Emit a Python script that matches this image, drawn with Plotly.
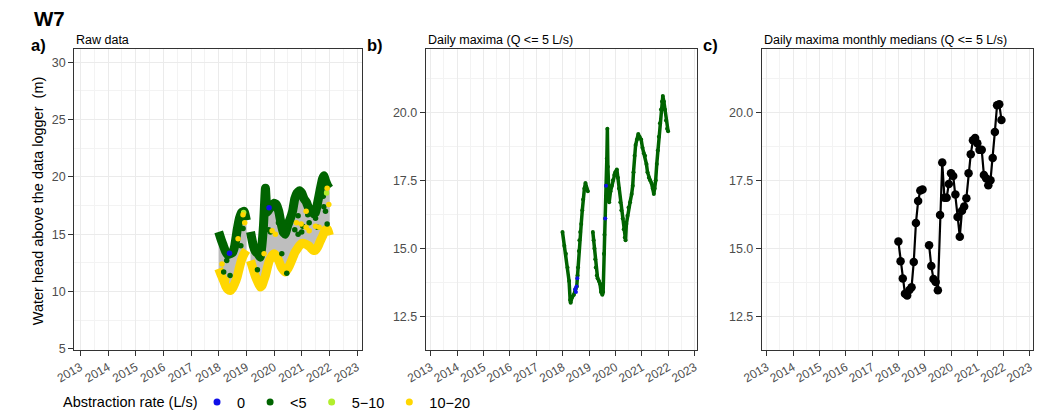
import plotly.graph_objects as go

# ---------------- a) raw logger record (band centre lines, decimal years) ----------------
raw_t1 = [2018.00, 2018.08, 2018.17, 2018.25, 2018.33, 2018.42, 2018.50, 2018.58,
          2018.67, 2018.75, 2018.83, 2018.92, 2019.00]
raw_low_q1 = [15.2, 14.6, 14.0, 13.5, 13.2, 13.3, 13.4, 14.0, 15.4, 16.4, 16.9, 17.0, 16.2]
raw_high_q1 = [12.0, 11.5, 11.0, 10.5, 10.2, 10.1, 10.3, 10.7, 11.3, 12.1, 12.8, 13.3, 13.6]

raw_t2 = [2019.15, 2019.25, 2019.33, 2019.42, 2019.50, 2019.56, 2019.62, 2019.69, 2019.75,
          2019.83, 2019.92, 2020.00, 2020.08, 2020.17, 2020.25, 2020.33, 2020.40, 2020.50,
          2020.58, 2020.67, 2020.75, 2020.83, 2020.92, 2021.00, 2021.08, 2021.17, 2021.25,
          2021.33, 2021.42, 2021.50, 2021.58, 2021.67, 2021.75, 2021.80, 2021.87, 2021.94,
          2022.00]
raw_low_q2 = [15.2, 14.0, 13.5, 13.3, 13.0, 14.0, 15.8, 19.0, 16.9, 17.2, 17.5, 17.7, 17.6,
              17.0, 16.0, 15.2, 15.0, 15.8, 16.3, 17.0, 18.1, 18.6, 18.8, 18.6, 18.1, 17.8,
              17.3, 17.1, 16.8, 16.9, 17.8, 18.9, 19.8, 20.1, 19.6, 19.2, 19.0]
raw_high_q2 = [12.7, 11.9, 11.3, 10.8, 10.4, 10.5, 10.9, 11.4, 12.0, 12.7, 13.1, 13.3, 13.1,
               12.7, 12.2, 11.9, 11.7, 12.0, 12.4, 12.9, 13.4, 13.7, 14.0, 14.2, 14.2, 14.1,
               14.0, 13.8, 13.6, 13.6, 13.9, 14.4, 14.8, 15.1, 15.4, 15.4, 14.9]

# isolated readings inside the band, by abstraction class
pts_0_t = [2018.39, 2019.82]
pts_0_h = [13.35, 17.3]
pts_lt5_t = [2018.18, 2018.29, 2018.41, 2018.80, 2018.88, 2019.40, 2019.58, 2019.81, 2019.87,
             2020.16, 2020.28, 2020.46, 2020.51, 2020.75, 2020.87, 2020.87, 2021.00, 2021.04,
             2021.22, 2021.27, 2021.50, 2021.57, 2021.78, 2021.80, 2021.86, 2021.92]
pts_lt5_h = [11.7, 12.7, 11.4, 14.0, 15.5, 11.9, 14.4, 15.4, 15.2, 16.0, 13.3, 11.6, 15.7, 15.4,
             16.6, 15.0, 15.2, 15.7, 16.7, 16.0, 16.4, 15.6, 18.3, 17.4, 17.0, 15.9]
pts_5_10_t = [2018.90, 2021.90]
pts_5_10_h = [16.9, 18.6]
pts_10_20_t = [2018.12, 2018.29, 2018.70, 2018.88, 2018.94, 2019.64, 2019.93, 2020.05, 2020.81,
               2020.98, 2021.16, 2021.16, 2021.27, 2021.50, 2021.63, 2021.92, 2021.98]
pts_10_20_h = [12.4, 11.0, 14.6, 16.7, 16.0, 13.3, 15.3, 15.0, 16.0, 15.9, 17.0, 15.6, 15.3,
               15.7, 15.6, 19.0, 17.6]

# ---------------- b) daily maxima, Q <= 5 L/s ----------------
dmax_t = [2017.99, 2018.06, 2018.12, 2018.18, 2018.24, 2018.28, 2018.30, 2018.35, 2018.42,
          2018.48, 2018.53, 2018.56, 2018.58, 2018.61, 2018.63, 2018.66, 2018.70, 2018.74,
          2018.77, 2018.82, 2018.86, 2018.90, 2018.95, None,
          2019.14, 2019.17, 2019.20, 2019.23, 2019.25, 2019.29, 2019.32, 2019.37, 2019.41,
          2019.45, 2019.50, 2019.53, 2019.56, 2019.58, 2019.61, 2019.64, 2019.67, 2019.69,
          2019.71, 2019.73, 2019.76, 2019.81, 2019.86, 2019.90, 2019.95, 2019.99, 2020.05,
          2020.09, 2020.13, 2020.18, 2020.22, 2020.27, 2020.31, 2020.35, 2020.38, 2020.41,
          2020.45, 2020.49, 2020.55, 2020.61, 2020.65, 2020.68, 2020.72, 2020.76, 2020.81,
          2020.86, 2020.91, 2020.97, 2021.02, 2021.07, 2021.12, 2021.17, 2021.21, 2021.26,
          2021.31, 2021.36, 2021.41, 2021.45, 2021.48, 2021.52, 2021.56, 2021.60, 2021.64,
          2021.68, 2021.72, 2021.76, 2021.79, 2021.83, 2021.87, 2021.91, 2021.95, 2021.99]
dmax_h = [15.6, 15.1, 14.8, 14.3, 13.8, 13.1, 13.0, 13.2, 13.3,
          13.5, 13.6, 14.0, 14.3, 14.9, 15.3, 15.6, 15.9, 16.4,
          16.8, 17.2, 17.4, 17.2, 17.1, None,
          15.6, 15.3, 15.0, 14.6, 14.3, 14.0, 13.9, 13.8, 13.7,
          13.4, 13.3, 13.4, 14.8, 15.5, 16.1, 17.3, 18.3, 19.4,
          18.0, 16.8, 16.7, 17.1, 17.3, 17.5, 17.7, 17.8, 17.9,
          17.6, 17.2, 16.7, 16.4, 16.1, 15.7, 15.4, 15.3, 15.9,
          16.2, 16.5, 16.7, 17.0, 17.3, 17.8, 18.4, 18.8, 19.0,
          19.2, 19.1, 19.0, 18.7, 18.5, 18.4, 18.1, 17.8, 17.6,
          17.5, 17.4, 17.2, 17.0, 17.2, 17.5, 18.1, 18.6, 19.1,
          19.6, 20.1, 20.4, 20.6, 20.4, 20.1, 19.7, 19.4, 19.3]
dmax0_t = [2018.47, 2018.50, 2018.52, 2018.55, 2019.61, 2019.64]
dmax0_h = [13.5, 13.4, 13.6, 13.9, 16.1, 17.3]

# ---------------- c) monthly medians of daily maxima ----------------
med_month = ["2018-01", "2018-02", "2018-03", "2018-04", "2018-05", "2018-06",
             "2018-07", "2018-08", "2018-09", "2018-10", "2018-11", "2018-12",
             "2019-01", "2019-02", "2019-03", "2019-04", "2019-05", "2019-06",
             "2019-07", "2019-08", "2019-09", "2019-10", "2019-11", "2019-12",
             "2020-01", "2020-02", "2020-03", "2020-04", "2020-05", "2020-06",
             "2020-07", "2020-08", "2020-09", "2020-10", "2020-11", "2020-12",
             "2021-01", "2021-02", "2021-03", "2021-04", "2021-05", "2021-06",
             "2021-07", "2021-08", "2021-09", "2021-10", "2021-11", "2021-12"]
med_h = [15.25, 14.53, 13.89, 13.33, 13.27, 13.47, 13.57, 14.50, 15.93, 16.74, 17.13, 17.16,
         None, None, 15.12, 14.35, 13.88, 13.77, 13.46, 16.23, 18.16, 16.86, 16.86, 17.37,
         17.76, 17.66, 16.98, 16.15, 15.43, 16.38, 16.54, 16.84, 17.76, 18.46, 18.97, 19.06,
         18.86, 18.62, 18.62, 17.70, 17.58, 17.32, 17.50, 18.32, 19.28, 20.26, 20.30, 19.72]

year_ticks = list(range(2013, 2024))
rate_classes = ["0", "<5", "5\u221210", "10\u221220"]

# ---------------- styling ----------------
C_BLUE = "#1010E8"
C_DGREEN = "#006400"
C_LGREEN = "#B2EE2C"
C_YELLOW = "#FFD700"
C_GREY = "#BEBEBE"
class_colors = [C_BLUE, C_DGREEN, C_LGREEN, C_YELLOW]
FONT = "Liberation Sans, Arial, sans-serif"
SPL = dict(shape="spline", smoothing=0.35)

med_t = [int(m[:4]) + (int(m[5:]) - 1) / 12 for m in med_month]

fig = go.Figure()

# a) grey envelope between the low-rate and high-rate bands
for t, lo, hi in [(raw_t1, raw_low_q1, raw_high_q1), (raw_t2, raw_low_q2, raw_high_q2)]:
    fig.add_trace(go.Scatter(x=t + t[::-1], y=lo + hi[::-1], fill="toself", fillcolor=C_GREY,
                             line=dict(width=0, **SPL), mode="lines",
                             hoverinfo="skip", showlegend=False, xaxis="x", yaxis="y"))
for t, hi in [(raw_t1, raw_high_q1), (raw_t2, raw_high_q2)]:
    fig.add_trace(go.Scatter(x=t, y=hi, mode="lines", line=dict(color=C_YELLOW, width=9, **SPL),
                             showlegend=False, xaxis="x", yaxis="y"))
for t, lo in [(raw_t1, raw_low_q1), (raw_t2, raw_low_q2)]:
    fig.add_trace(go.Scatter(x=t, y=lo, mode="lines", line=dict(color=C_DGREEN, width=9, **SPL),
                             showlegend=False, xaxis="x", yaxis="y"))

point_sets = [(pts_0_t, pts_0_h), (pts_lt5_t, pts_lt5_h),
              (pts_5_10_t, pts_5_10_h), (pts_10_20_t, pts_10_20_h)]
for name, (t, h), col in zip(rate_classes, point_sets, class_colors):
    fig.add_trace(go.Scatter(x=t, y=h, mode="markers", name=name, legendgroup=name,
                             marker=dict(color=col, size=5.5), showlegend=False,
                             xaxis="x", yaxis="y"))
    # legend key with a larger swatch
    fig.add_trace(go.Scatter(x=[None], y=[None], mode="markers", name=name, legendgroup=name,
                             marker=dict(color=col, size=7), showlegend=True,
                             xaxis="x", yaxis="y"))

# b) daily maxima
fig.add_trace(go.Scatter(x=dmax_t, y=dmax_h, mode="lines+markers",
                         line=dict(color=C_DGREEN, width=3.5), marker=dict(color=C_DGREEN, size=4),
                         showlegend=False, xaxis="x2", yaxis="y2"))
fig.add_trace(go.Scatter(x=dmax0_t, y=dmax0_h, mode="markers", marker=dict(color=C_BLUE, size=4),
                         showlegend=False, xaxis="x2", yaxis="y2"))

# c) monthly medians
fig.add_trace(go.Scatter(x=med_t, y=med_h, mode="lines+markers",
                         line=dict(color="black", width=2.2), marker=dict(color="black", size=8.5),
                         showlegend=False, xaxis="x3", yaxis="y3"))

W, H = 1040, 419
top, bottom = 1 - 50 / H, 1 - 355.6 / H
grid_major = "#EBEBEB"
grid_minor = "#F3F3F3"


def xax(dom, rng):
    return dict(domain=dom, range=rng, tickmode="array", tickvals=year_ticks,
                ticktext=[str(y) for y in year_ticks], tickangle=-30,
                ticks="outside", ticklen=5, tickcolor="#333333", tickwidth=1.1,
                tickfont=dict(family=FONT, size=12, color="#4D4D4D"),
                showgrid=True, gridcolor=grid_major, gridwidth=1,
                minor=dict(tickvals=[y + 0.5 for y in year_ticks[:-1]], showgrid=True,
                           gridcolor=grid_minor, gridwidth=1, ticks=""),
                showline=True, mirror=True, linecolor="#333333", linewidth=1.2,
                zeroline=False, fixedrange=True)


def yax(anchor, rng, vals, minor_vals, fmt):
    return dict(domain=[bottom, top], range=rng, anchor=anchor, tickmode="array",
                tickvals=vals, ticktext=[fmt.format(v) for v in vals],
                ticks="outside", ticklen=5, tickcolor="#333333", tickwidth=1.1,
                tickfont=dict(family=FONT, size=12.5, color="#4D4D4D"),
                showgrid=True, gridcolor=grid_major, gridwidth=1,
                minor=dict(tickvals=minor_vals, showgrid=True, gridcolor=grid_minor,
                           gridwidth=1, ticks=""),
                showline=True, mirror=True, linecolor="#333333", linewidth=1.2,
                zeroline=False, fixedrange=True)


fig.update_layout(
    width=W, height=H, autosize=False,
    margin=dict(l=0, r=0, t=0, b=0),
    paper_bgcolor="white", plot_bgcolor="white",
    font=dict(family=FONT, color="black"),
    xaxis=xax([54.5 / W, 349 / W], [2012.78, 2023.19]),
    yaxis=yax("x", [4.94, 31.13], [5, 10, 15, 20, 25, 30], [7.5, 12.5, 17.5, 22.5, 27.5], "{:g}"),
    xaxis2=xax([414 / W, 691.7 / W], [2012.815, 2023.1]),
    yaxis2=yax("x2", [11.28, 22.32], [12.5, 15, 17.5, 20], [13.75, 16.25, 18.75, 21.25], "{:.1f}"),
    xaxis3=xax([757.7 / W, 1035 / W], [2012.814, 2023.12]),
    yaxis3=yax("x3", [11.28, 22.32], [12.5, 15, 17.5, 20], [13.75, 16.25, 18.75, 21.25], "{:.1f}"),
    legend=dict(orientation="h", x=180 / W, y=1 - 409 / H, xanchor="left", yanchor="middle",
                font=dict(family=FONT, size=14.5, color="black"),
                bgcolor="rgba(0,0,0,0)", itemsizing="trace", tracegroupgap=0),
    showlegend=True,
)

annotations = [
    dict(text="<b>W7</b>", x=11 / W, y=1 - 19 / H, font=dict(size=20.5)),
    dict(text="<b>a)</b>", x=8 / W, y=1 - 46 / H, font=dict(size=16.5)),
    dict(text="<b>b)</b>", x=352 / W, y=1 - 46 / H, font=dict(size=16.5)),
    dict(text="<b>c)</b>", x=695 / W, y=1 - 46 / H, font=dict(size=16.5)),
    dict(text="Raw data", x=54.5 / W, y=1 - 40.5 / H, font=dict(size=12.5)),
    dict(text="Daily maxima (Q <= 5 L/s)", x=414 / W, y=1 - 40.5 / H, font=dict(size=12.5)),
    dict(text="Daily maxima monthly medians (Q <= 5 L/s)", x=757.7 / W, y=1 - 40.5 / H,
         font=dict(size=12.5)),
    dict(text="Abstraction rate (L/s)", x=41 / W, y=1 - 409 / H, font=dict(size=14.5)),
]
for a in annotations:
    fig.add_annotation(xref="paper", yref="paper", xanchor="left", yanchor="middle",
                       showarrow=False, x=a["x"], y=a["y"], text=a["text"],
                       font=dict(family=FONT, color="black", **a["font"]))
fig.add_annotation(xref="paper", yref="paper", x=17 / W, y=1 - 204 / H, showarrow=False,
                   text="Water head above the data logger  (m)", textangle=-90,
                   xanchor="center", yanchor="middle",
                   font=dict(family=FONT, size=14.5, color="black"))

fig.write_html("out.html")
